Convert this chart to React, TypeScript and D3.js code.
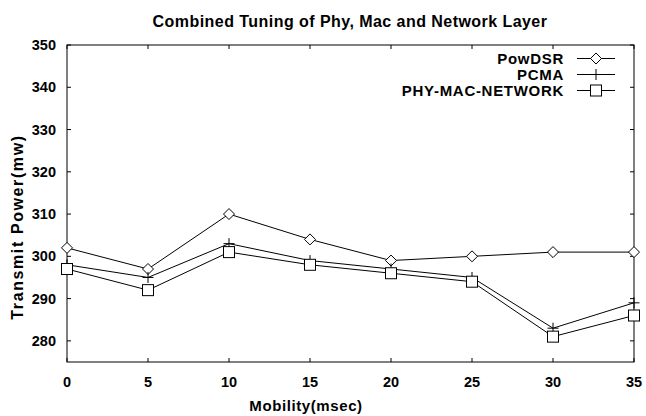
import React from "react";
import * as d3 from "d3";

const mobility = [0, 5, 10, 15, 20, 25, 30, 35];
const powDSR = [302, 297, 310, 304, 299, 300, 301, 301];
const pcma = [298, 295, 303, 299, 297, 295, 283, 289];
const phyMacNetwork = [297, 292, 301, 298, 296, 294, 281, 286];
const yTicks = [280, 290, 300, 310, 320, 330, 340, 350];
const xTicks = [0, 5, 10, 15, 20, 25, 30, 35];

const W = 646;
const H = 416;
const M = { left: 67, right: 634, top: 45, bottom: 362 };
const FONT = "'Liberation Sans', Arial, sans-serif";

type Series = { name: string; values: number[]; marker: "diamond" | "plus" | "square" };
const series: Series[] = [
  { name: "PowDSR", values: powDSR, marker: "diamond" },
  { name: "PCMA", values: pcma, marker: "plus" },
  { name: "PHY-MAC-NETWORK", values: phyMacNetwork, marker: "square" },
];

function Marker({ kind, x, y }: { kind: Series["marker"]; x: number; y: number }) {
  if (kind === "diamond") {
    const r = 5.5;
    return (
      <path
        d={`M${x - r},${y}L${x},${y - r}L${x + r},${y}L${x},${y + r}Z`}
        fill="white"
        stroke="black"
        strokeWidth={1}
      />
    );
  }
  if (kind === "plus") {
    const r = 5.5;
    return (
      <path d={`M${x - r},${y}H${x + r}M${x},${y - r}V${y + r}`} stroke="black" strokeWidth={1} fill="none" />
    );
  }
  const s = 5.5;
  return <rect x={x - s} y={y - s} width={2 * s} height={2 * s} fill="white" stroke="black" strokeWidth={1} />;
}

export default function App() {
  const x = d3.scaleLinear().domain([0, 35]).range([M.left, M.right]);
  const y = d3.scaleLinear().domain([275, 350]).range([M.bottom, M.top]);
  const line = d3
    .line<number>()
    .x((_, i) => x(mobility[i]))
    .y((v) => y(v));
  const tl = 4;

  return (
    <svg width={W} height={H} style={{ position: "absolute", left: 0, top: 0, background: "white" }}>
      <rect width={W} height={H} fill="white" />
      <text
        x={350}
        y={27}
        textAnchor="middle"
        fontFamily={FONT}
        fontWeight="bold"
        fontSize={16}
        letterSpacing={0.45}
      >
        Combined Tuning of Phy, Mac and Network Layer
      </text>

      {/* ticks on all four sides */}
      <g stroke="black" strokeWidth={1}>
        {yTicks.map((t) => (
          <g key={"y" + t}>
            <line x1={M.left} x2={M.left + tl} y1={y(t)} y2={y(t)} />
            <line x1={M.right} x2={M.right - tl} y1={y(t)} y2={y(t)} />
          </g>
        ))}
        {xTicks.map((t) => (
          <g key={"x" + t}>
            <line x1={x(t)} x2={x(t)} y1={M.bottom} y2={M.bottom - tl} />
            <line x1={x(t)} x2={x(t)} y1={M.top} y2={M.top + tl} />
          </g>
        ))}
      </g>
      <rect
        x={M.left}
        y={M.top}
        width={M.right - M.left}
        height={M.bottom - M.top}
        fill="none"
        stroke="black"
        strokeWidth={1}
      />

      {yTicks.map((t) => (
        <text
          key={"yl" + t}
          x={M.left - 11}
          y={y(t) + 5}
          textAnchor="end"
          fontFamily={FONT}
          fontWeight="bold"
          fontSize={14.5}
        >
          {t}
        </text>
      ))}
      {xTicks.map((t) => (
        <text
          key={"xl" + t}
          x={x(t)}
          y={387}
          textAnchor="middle"
          fontFamily={FONT}
          fontWeight="bold"
          fontSize={14.5}
        >
          {t}
        </text>
      ))}

      <text
        transform={`translate(23,227) rotate(-90)`}
        textAnchor="middle"
        fontFamily={FONT}
        fontWeight="bold"
        fontSize={16}
        letterSpacing={1.6}
      >
        Transmit Power(mw)
      </text>
      <text
        x={306}
        y={411}
        textAnchor="middle"
        fontFamily={FONT}
        fontWeight="bold"
        fontSize={15}
        letterSpacing={0.6}
      >
        Mobility(msec)
      </text>

      {series.map((s) => (
        <g key={s.name}>
          <path d={line(s.values) ?? ""} fill="none" stroke="black" strokeWidth={1} />
          {s.values.map((v, i) => (
            <Marker key={i} kind={s.marker} x={x(mobility[i])} y={y(v)} />
          ))}
        </g>
      ))}

      {/* legend */}
      {series.map((s, i) => {
        const ly = 58.5 + i * 16;
        return (
          <g key={"lg" + s.name}>
            <text
              x={564}
              y={ly + 5.5}
              textAnchor="end"
              fontFamily={FONT}
              fontWeight="bold"
              fontSize={15}
              letterSpacing={0.7}
            >
              {s.name}
            </text>
            <line x1={577} x2={615} y1={ly} y2={ly} stroke="black" strokeWidth={1} />
            <Marker kind={s.marker} x={596} y={ly} />
          </g>
        );
      })}
    </svg>
  );
}
